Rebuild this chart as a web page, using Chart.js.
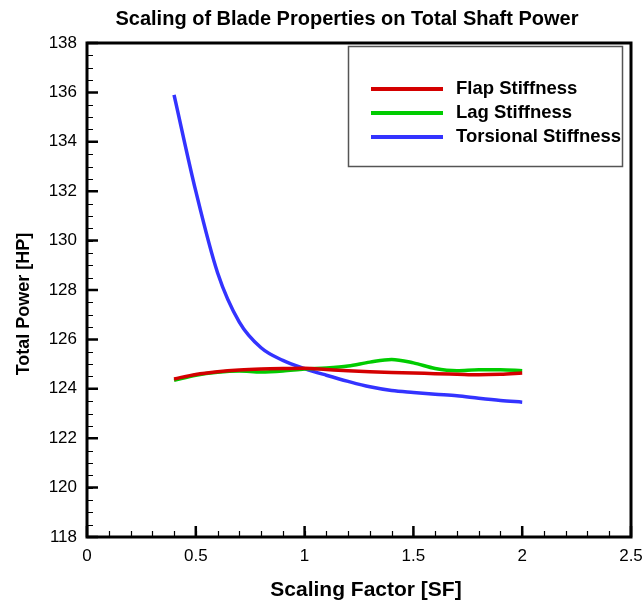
<!DOCTYPE html>
<html>
<head>
<meta charset="utf-8">
<script src="https://cdn.jsdelivr.net/npm/chart.js@4/dist/chart.umd.min.js"></script>
<style>
  html, body { margin: 0; padding: 0; background: #fff; }
  #wrap { width: 644px; height: 602px; position: relative; }
</style>
</head>
<body>
<div id="wrap"><canvas id="chart" width="644" height="602"></canvas></div>
<script>
// 数据
const scalingFactor = [0.4, 0.5, 0.6, 0.7, 0.8, 0.9, 1.0, 1.1, 1.2, 1.3, 1.4, 1.5, 1.6, 1.7, 1.8, 1.9, 2.0];
const flapPower = [124.40, 124.58, 124.69, 124.76, 124.80, 124.82, 124.83, 124.78, 124.73, 124.69, 124.66, 124.64, 124.61, 124.59, 124.57, 124.59, 124.64];
const lagPower = [124.34, 124.55, 124.67, 124.72, 124.68, 124.72, 124.80, 124.84, 124.92, 125.08, 125.19, 125.05, 124.82, 124.73, 124.77, 124.77, 124.73];
const torsionPower = [135.9, 132.0, 128.7, 126.7, 125.66, 125.15, 124.82, 124.55, 124.30, 124.08, 123.93, 123.85, 123.78, 123.72, 123.62, 123.53, 123.46];
const seriesNames = ['Flap Stiffness', 'Lag Stiffness', 'Torsional Stiffness'];
const seriesColors = ['#d40000', '#00cc00', '#3333ff'];
const xTicks = [0, 0.5, 1, 1.5, 2, 2.5];
const yTicks = [118, 120, 122, 124, 126, 128, 130, 132, 134, 136, 138];

const FONT = '"Liberation Sans", Arial, sans-serif';

function toPoints(ys) {
    return scalingFactor.map((x, i) => ({ x: x, y: ys[i] }));
}

// 坐标框、刻度、标题、图例
const framePlugin = {
    id: 'frame',
    afterDraw(chart) {
        const ctx = chart.ctx;
        const a = chart.chartArea;
        const xs = chart.scales.x, ys = chart.scales.y;
        ctx.save();
        ctx.strokeStyle = '#000';

        // 小刻度
        ctx.lineWidth = 1.2;
        ctx.beginPath();
        for (let v = 0.1; v < 2.5; v += 0.1) {
            const px = Math.round(xs.getPixelForValue(v)) + 0.5;
            ctx.moveTo(px, a.bottom);
            ctx.lineTo(px, a.bottom - 6);
        }
        for (let v = 118.5; v < 138; v += 0.5) {
            const py = Math.round(ys.getPixelForValue(v)) + 0.5;
            ctx.moveTo(a.left, py);
            ctx.lineTo(a.left + 6, py);
        }
        ctx.stroke();

        // 大刻度
        ctx.lineWidth = 2.5;
        ctx.beginPath();
        xTicks.forEach(v => {
            const px = xs.getPixelForValue(v);
            ctx.moveTo(px, a.bottom);
            ctx.lineTo(px, a.bottom - 11);
        });
        yTicks.forEach(v => {
            const py = ys.getPixelForValue(v);
            ctx.moveTo(a.left, py);
            ctx.lineTo(a.left + 11, py);
        });
        ctx.stroke();

        // 外框
        ctx.lineWidth = 3;
        ctx.strokeRect(a.left, a.top, a.right - a.left, a.bottom - a.top);

        // 标题
        ctx.fillStyle = '#000';
        ctx.textAlign = 'center';
        ctx.textBaseline = 'middle';
        ctx.font = 'bold 20px ' + FONT;
        ctx.fillText('Scaling of Blade Properties on Total Shaft Power', 347, 19);

        ctx.font = 'bold 21px ' + FONT;
        ctx.fillText('Scaling Factor [SF]', 366, 590);
        ctx.font = 'bold 18px ' + FONT;
        ctx.save();
        ctx.translate(24, 304);
        ctx.rotate(-Math.PI / 2);
        ctx.fillText('Total Power [HP]', 0, 0);
        ctx.restore();

        // 图例
        ctx.fillStyle = '#fff';
        ctx.fillRect(348, 46, 275, 121);
        ctx.lineWidth = 1.5;
        ctx.strokeStyle = '#555';
        ctx.strokeRect(348.5, 46.5, 274, 120);
        const rows = [89, 113, 137];
        ctx.font = 'bold 18.5px ' + FONT;
        ctx.textAlign = 'left';
        seriesNames.forEach((name, i) => {
            ctx.strokeStyle = seriesColors[i];
            ctx.lineWidth = 4;
            ctx.beginPath();
            ctx.moveTo(371, rows[i]);
            ctx.lineTo(443, rows[i]);
            ctx.stroke();
            ctx.fillStyle = '#000';
            ctx.fillText(name, 456, rows[i]);
        });
        ctx.restore();
    }
};

const datasets = [flapPower, lagPower, torsionPower].map((ys, i) => ({
    label: seriesNames[i],
    data: toPoints(ys),
    borderColor: seriesColors[i],
    backgroundColor: seriesColors[i],
    borderWidth: 3.5,
    pointRadius: 0,
    cubicInterpolationMode: 'monotone',
    fill: false
}));

new Chart(document.getElementById('chart'), {
    type: 'line',
    data: { datasets: datasets },
    options: {
        responsive: false,
        animation: false,
        layout: { padding: { top: 43, right: 13, left: 0, bottom: 0 } },
        plugins: {
            legend: { display: false },
            title: { display: false },
            tooltip: { enabled: false }
        },
        scales: {
            x: {
                type: 'linear',
                min: 0,
                max: 2.5,
                afterFit: s => { s.height = 65; s.paddingLeft = 0; s.paddingRight = 0; },
                grid: { display: false, drawTicks: false },
                border: { display: false },
                ticks: {
                    stepSize: 0.5,
                    padding: 9,
                    color: '#000',
                    maxRotation: 0,
                    font: { family: FONT, size: 17 },
                    callback: v => String(v)
                }
            },
            y: {
                type: 'linear',
                min: 118,
                max: 138,
                afterFit: s => { s.width = 87; s.paddingTop = 0; s.paddingBottom = 0; },
                grid: { display: false, drawTicks: false },
                border: { display: false },
                ticks: {
                    stepSize: 2,
                    padding: 10,
                    color: '#000',
                    font: { family: FONT, size: 17 }
                }
            }
        }
    },
    plugins: [framePlugin]
});
</script>
</body>
</html>
